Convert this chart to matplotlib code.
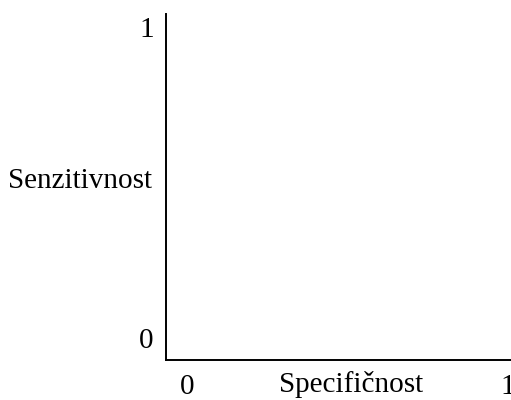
import matplotlib
matplotlib.use("Agg")
import matplotlib.pyplot as plt

# Osy ROC prostoru (bez dat)
x_ticks = [0, 1]
y_ticks = [0, 1]
x_tick_labels = ["0", "1"]
y_tick_labels = ["0", "1"]
x_label = "Specifičnost"
y_label = "Senzitivnost"

plt.rcParams["font.family"] = ["Liberation Serif", "DejaVu Serif"]

fig = plt.figure(figsize=(5.11, 4.0), dpi=100)
ax = fig.add_axes([0.325, 0.1, 0.675, 0.865])

ax.set_xlim(-0.0654, 1.0093)
ax.set_ylim(-0.0707, 1.0418)

ax.set_xticks(x_ticks)
ax.set_xticklabels(x_tick_labels, fontsize=21)
ax.set_yticks(y_ticks)
ax.set_yticklabels(y_tick_labels, fontsize=21)
ax.tick_params(axis="both", length=0)
ax.tick_params(axis="x", pad=10)
ax.tick_params(axis="y", pad=9)

for side in ["top", "right"]:
    ax.spines[side].set_visible(False)
for side in ["left", "bottom"]:
    ax.spines[side].set_linewidth(1.4)
    ax.spines[side].set_color("black")

ax.set_xlabel(x_label, fontsize=21, va="center")
ax.xaxis.set_label_coords(0.535, -0.072)
ax.set_ylabel(y_label, fontsize=21, rotation=0, va="center", ha="center")
ax.yaxis.set_label_coords(-0.249, 0.517)

fig.savefig("out.png", dpi=100)
